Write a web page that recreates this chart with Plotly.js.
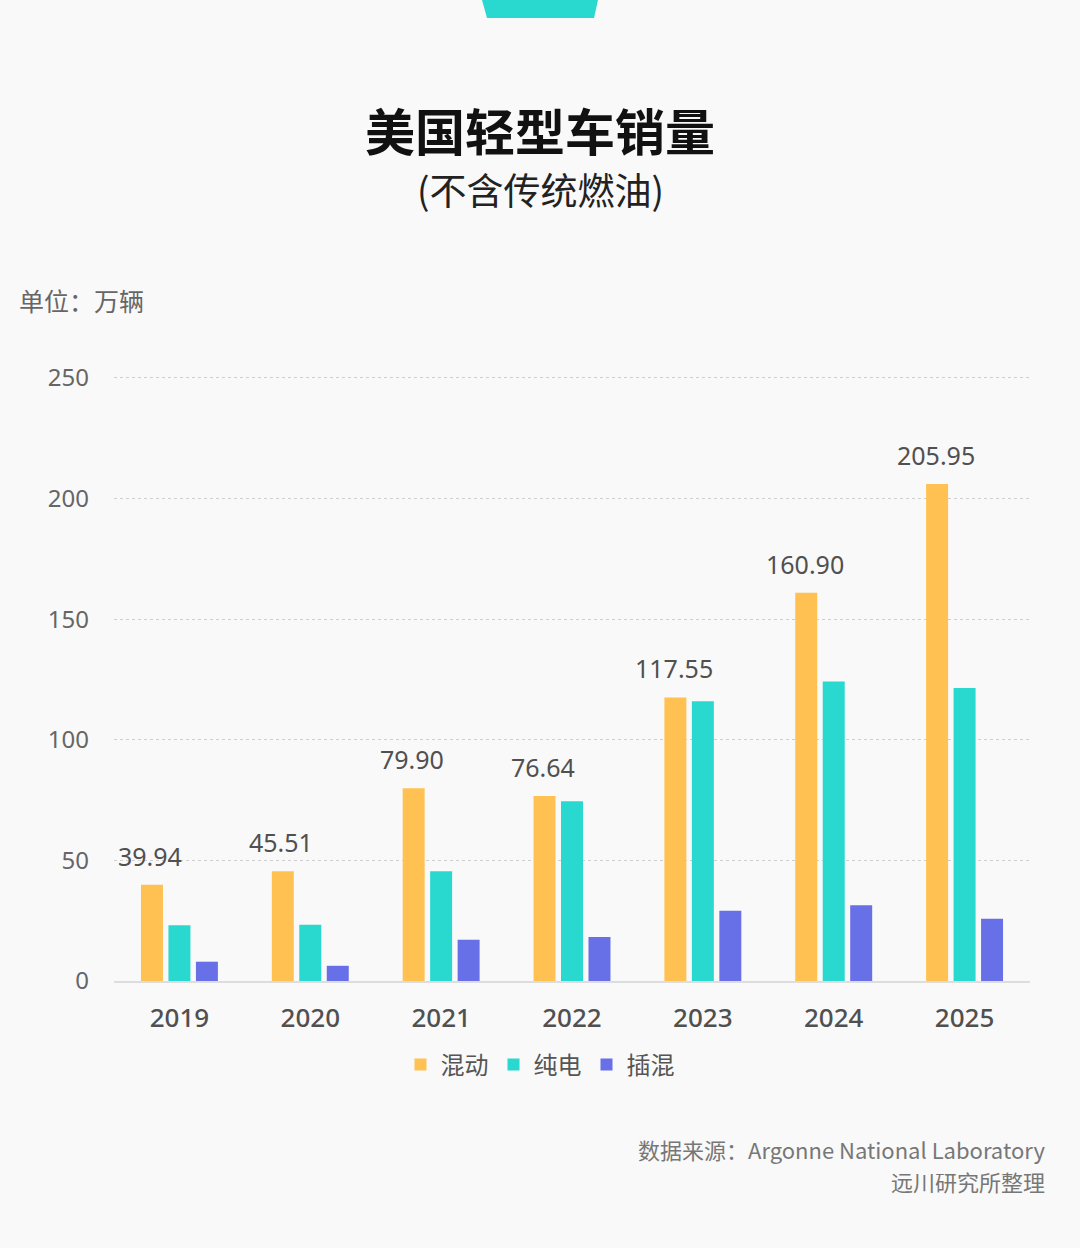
<!DOCTYPE html>
<html>
<head>
<meta charset="utf-8">
<script src="https://cdn.plot.ly/plotly-3.0.1.min.js"></script>
<style>
html,body{margin:0;padding:0;background:#f9f9f9;}
#chart{width:1080px;height:1248px;}
</style>
</head>
<body>
<div id="chart"></div>
<script>
const years = ['2019','2020','2021','2022','2023','2024','2025'];
const hybrid = [39.94, 45.51, 79.90, 76.64, 117.55, 160.90, 205.95];
const bev = [23.1, 23.3, 45.5, 74.5, 116.0, 124.1, 121.4];
const phev = [8.0, 6.3, 17.1, 18.2, 29.1, 31.4, 25.8];
const seriesNames = ['混动', '纯电', '插混'];
const yTicks = [0, 50, 100, 150, 200, 250];

const FONT = 'Noto Sans, "Noto Sans CJK SC", sans-serif';
const CJK = '"Noto Sans CJK SC", "Noto Sans", sans-serif';

const traces = [
  {type:'bar', name:seriesNames[0], x:years, y:hybrid, marker:{color:'#FFC252'}, hoverinfo:'y'},
  {type:'bar', name:seriesNames[1], x:years, y:bev, marker:{color:'#29D8CF'}, hoverinfo:'y'},
  {type:'bar', name:seriesNames[2], x:years, y:phev, marker:{color:'#6770E6'}, hoverinfo:'y'}
];

const YMAX = 252;
const L=114, R=1030, B=981;
const T = Math.round(B - YMAX*(981-378)/250);
const px = v => (v-L)/(R-L);
const py = v => (B-v)/(B-T);

const valueLabels = hybrid.map((v,i)=>({
  text:v.toFixed(2), x:i, y:v, xref:'x', yref:'y', xshift:-29, yshift:29,
  xanchor:'center', yanchor:'middle', showarrow:false,
  font:{family:FONT, size:25, color:'#505050'}
}));

const layout = {
  width:1080, height:1248,
  paper_bgcolor:'#f9f9f9', plot_bgcolor:'#f9f9f9',
  margin:{l:L, r:1080-R, t:T, b:1248-B, pad:0},
  barmode:'group', bargap:0.37, bargroupgap:0.2,
  font:{family:FONT, color:'#555'},
  showlegend:true,
  legend:{orientation:'h', xref:'container', yref:'container', x:0.5, xanchor:'center',
          y:1-1065/1248, yanchor:'middle', font:{family:CJK, size:24, color:'#555'},
          itemwidth:30, traceorder:'normal', bgcolor:'rgba(0,0,0,0)'},
  xaxis:{type:'category', categoryarray:years, range:[-0.5, years.length-0.5], autorange:false,
         tickfont:{family:FONT, size:26, color:'#505050', weight:500}, showgrid:false,
         showline:true, linecolor:'#dddddd', linewidth:2, ticks:'', ticklabelstandoff:13, fixedrange:true},
  yaxis:{range:[0,YMAX], tickvals:yTicks, ticktext:yTicks.map(String), tickfont:{family:FONT, size:24, color:'#666'},
         showgrid:true, gridcolor:'#cfcfcf', griddash:'dot', gridwidth:1, zeroline:false,
         showline:false, ticks:'', ticklabelstandoff:24, fixedrange:true},
  annotations:[
    {text:'美国轻型车销量', xref:'paper', yref:'paper', x:px(540), y:py(129), xanchor:'center', yanchor:'middle',
     showarrow:false, font:{family:CJK, size:50, color:'#111', weight:600}},
    {text:'(不含传统燃油)', xref:'paper', yref:'paper', x:px(540), y:py(189), xanchor:'center', yanchor:'middle',
     showarrow:false, font:{family:CJK, size:37, color:'#222'}},
    {text:'单位：万辆', xref:'paper', yref:'paper', x:px(17), y:py(300), xanchor:'left', yanchor:'middle',
     showarrow:false, font:{family:CJK, size:25, color:'#666'}},
    {text:'数据来源：Argonne National Laboratory', xref:'paper', yref:'paper', x:px(1047), y:py(1149), xanchor:'right', yanchor:'middle',
     showarrow:false, font:{family:CJK, size:22, color:'#777'}},
    {text:'远川研究所整理', xref:'paper', yref:'paper', x:px(1047), y:py(1181), xanchor:'right', yanchor:'middle',
     showarrow:false, font:{family:CJK, size:22, color:'#777'}}
  ].concat(valueLabels),
  shapes:[
    {type:'path', xref:'paper', yref:'paper', layer:'above',
     path:'M '+px(482)+' '+py(0)+' L '+px(598)+' '+py(0)+' L '+px(594)+' '+py(18)+' L '+px(487)+' '+py(18)+' Z',
     fillcolor:'#29D8CF', line:{width:0}}
  ]
};

Plotly.newPlot('chart', traces, layout, {displayModeBar:false, staticPlot:true});
</script>
</body>
</html>
